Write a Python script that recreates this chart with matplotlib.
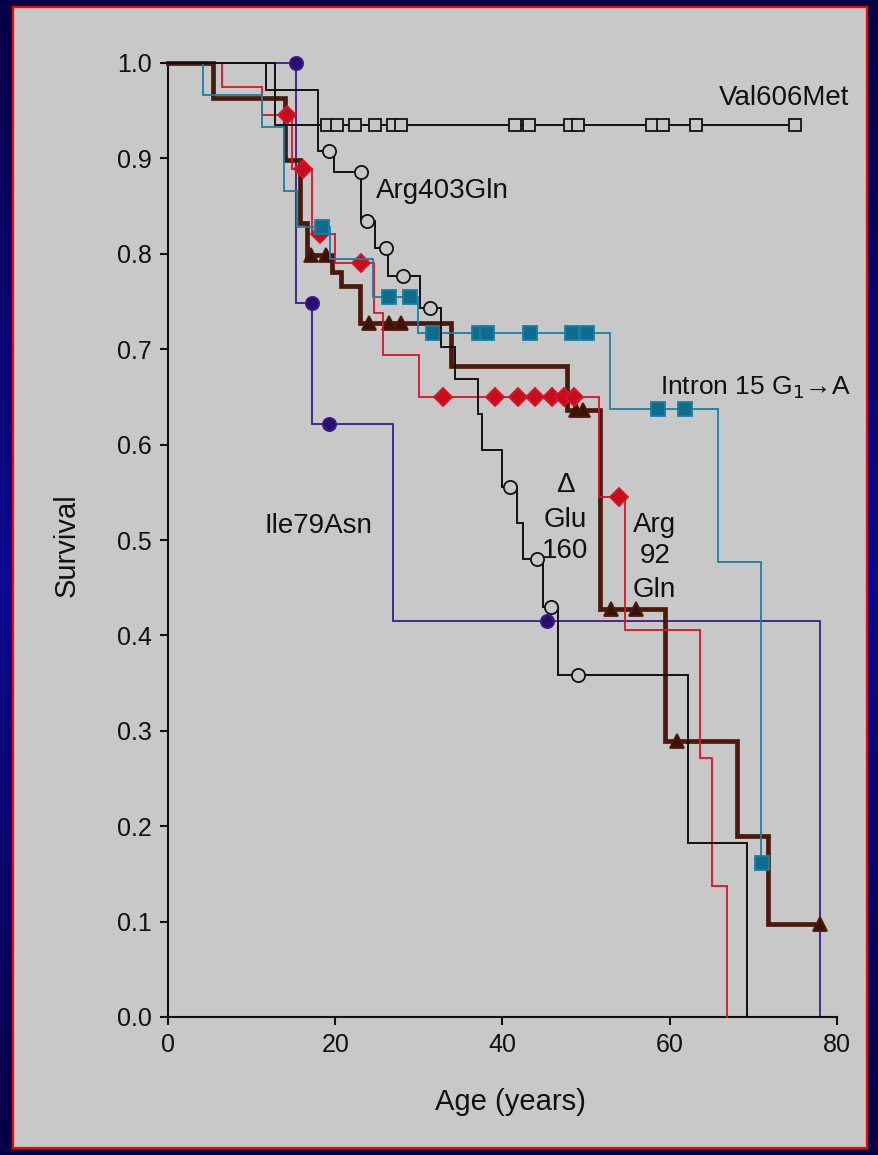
import matplotlib.pyplot as plt
import numpy as np
from matplotlib.patches import Rectangle
from matplotlib.colors import LinearSegmentedColormap

plt.rcParams['font.family'] = ['Liberation Sans', 'DejaVu Sans']

# Kaplan-Meier curves: step times (years), survival after each step, censored points
val606_t = [12.8]
val606_s = [0.935]
val606_end = 75.0
val606_cens_t = [19.0, 20.2, 22.4, 24.8, 26.9, 27.9, 41.5, 43.2, 48.1, 49.0, 57.9, 59.2, 63.1, 75.0]

arg403_t = [11.7, 17.9, 19.8, 23.1, 24.8, 26.3, 30.1, 32.7, 34.3, 37.1, 37.5, 39.9, 41.7,
            42.5, 44.8, 46.6, 62.2, 69.2]
arg403_s = [0.972, 0.908, 0.886, 0.834, 0.806, 0.777, 0.743, 0.702, 0.669, 0.632, 0.594,
            0.556, 0.518, 0.480, 0.430, 0.359, 0.182, 0.0]
arg403_end = 69.2
arg403_cens_t = [19.2, 23.1, 23.8, 26.1, 28.1, 31.3, 40.9, 44.1, 45.8, 49.0]

intron15_t = [4.2, 11.3, 13.9, 15.4, 19.4, 24.5, 29.9, 52.8, 65.8, 70.9]
intron15_s = [0.966, 0.933, 0.866, 0.828, 0.795, 0.755, 0.717, 0.637, 0.477, 0.161]
intron15_end = 71.0
intron15_cens_t = [18.4, 26.4, 28.9, 31.7, 37.2, 38.1, 43.3, 48.3, 50.1, 58.6, 61.8, 71.0]

ile79_t = [15.3, 17.2, 26.9, 78.0]
ile79_s = [0.748, 0.622, 0.415, 0.0]
ile79_end = 78.0
ile79_cens_t = [15.3, 17.2, 19.2, 45.3]

arg92_t = [6.4, 11.2, 14.8, 17.2, 20.0, 24.6, 25.7, 30.0, 51.5, 54.6, 63.6, 65.0, 66.9]
arg92_s = [0.975, 0.945, 0.889, 0.821, 0.790, 0.738, 0.694, 0.650, 0.545, 0.406, 0.271,
           0.137, 0.0]
arg92_end = 66.9
arg92_cens_t = [14.2, 16.2, 18.2, 23.1, 32.9, 39.1, 41.9, 43.9, 45.9, 47.3, 48.5, 53.9]

glu160_t = [5.4, 14.0, 15.8, 16.6, 19.6, 20.7, 23.0, 33.9, 47.7, 51.7, 59.4, 68.0, 71.8]
glu160_s = [0.963, 0.898, 0.832, 0.799, 0.781, 0.766, 0.727, 0.682, 0.636, 0.428, 0.289,
            0.190, 0.097]
glu160_end = 78.0
glu160_cens_t = [17.1, 18.9, 24.0, 26.4, 27.9, 48.8, 49.6, 53.0, 56.0, 60.9, 78.0]

bg = '#c8c8c8'


def km_curve(ax, t, s, end, cens_t, color, lw, marker, ms, mfc, z):
    xs = [0.0] + list(t) + [end]
    ys = [1.0] + list(s) + [s[-1]]
    ax.plot(xs, ys, drawstyle='steps-post', color=color, lw=lw, zorder=z,
            solid_joinstyle='miter', clip_on=False)
    # survival at each censoring time (value of the step on its left)
    cens_s = []
    for c in cens_t:
        val = 1.0
        for ti, si in zip(t, s):
            if ti < c - 1e-9:
                val = si
        cens_s.append(val)
    ax.plot(cens_t, cens_s, ls='none', marker=marker, ms=ms, mfc=mfc, mec=color,
            mew=1.3, zorder=z + 0.5, clip_on=False)


fig = plt.figure(figsize=(8.79, 11.55), dpi=100)

# dark blue frame with a grey panel
bga = fig.add_axes([0, 0, 1, 1])
grad = np.abs(np.linspace(-1, 1, 256))[:, None]
cmap = LinearSegmentedColormap.from_list('frame', ['#0a0a92', '#000046'])
bga.imshow(grad, aspect='auto', cmap=cmap, extent=[0, 1, 0, 1])
bga.set_xlim(0, 1)
bga.set_ylim(0, 1)
bga.axis('off')
bga.add_patch(Rectangle((13 / 879, 1 - 1148 / 1155), (867 - 13) / 879, (1148 - 7) / 1155,
                        facecolor=bg, edgecolor='#ff0000', lw=1.6))

ax = fig.add_axes([168 / 879, 1 - 1017 / 1155, 669 / 879, 954 / 1155])
ax.set_facecolor('none')

km_curve(ax, ile79_t, ile79_s, ile79_end, ile79_cens_t, '#3a1c8c', 1.3, 'o', 9.5, '#2c0c6c', 2)
km_curve(ax, glu160_t, glu160_s, glu160_end, glu160_cens_t, '#4b1a0c', 3.4, '^', 10, '#3c1206', 3)
km_curve(ax, arg92_t, arg92_s, arg92_end, arg92_cens_t, '#d8142a', 1.3, 'D', 9.5, '#c80c1c', 4)
km_curve(ax, intron15_t, intron15_s, intron15_end, intron15_cens_t, '#1a7fa6', 1.3, 's', 10.5, '#0f6c8c', 5)
km_curve(ax, arg403_t, arg403_s, arg403_end, arg403_cens_t, '#111111', 1.4, 'o', 9.5, bg, 6)
km_curve(ax, val606_t, val606_s, val606_end, val606_cens_t, '#111111', 1.4, 's', 9, bg, 6)

ax.set_xlim(0, 80)
ax.set_ylim(0, 1.0)
ax.set_xticks(np.arange(0, 81, 20))
ax.set_yticks(np.round(np.arange(0, 1.01, 0.1), 1))
ax.set_yticklabels([f'{v:.1f}' for v in np.arange(0, 1.01, 0.1)])
for side in ['top', 'right']:
    ax.spines[side].set_visible(False)
for side in ['left', 'bottom']:
    ax.spines[side].set_linewidth(1.5)
    ax.spines[side].set_color('#111111')
ax.tick_params(direction='out', length=5.5, width=1.5, labelsize=18, colors='#111111', pad=6)

# curve labels
tk = dict(fontsize=20, color='#111111')
ax.text(73.7, 0.956, 'Val606Met', ha='center', va='baseline', **tk)
ax.text(24.9, 0.858, 'Arg403Gln', ha='left', va='baseline', **tk)
ax.text(58.8, 0.652, 'Intron 15 G$_1$\u2192A', ha='left', va='baseline',
        fontsize=19, color='#111111')
ax.text(11.5, 0.507, 'Ile79Asn', ha='left', va='baseline', **tk)
ax.text(47.5, 0.550, '\u0394', ha='center', va='baseline', **tk)
ax.text(47.5, 0.514, 'Glu', ha='center', va='baseline', **tk)
ax.text(47.5, 0.481, '160', ha='center', va='baseline', **tk)
ax.text(58.2, 0.508, 'Arg', ha='center', va='baseline', **tk)
ax.text(58.2, 0.476, '92', ha='center', va='baseline', **tk)
ax.text(58.2, 0.440, 'Gln', ha='center', va='baseline', **tk)

fig.text(510 / 879, 1 - 1110 / 1155, 'Age (years)', ha='center', va='baseline',
         fontsize=21, color='#111111')
fig.text(67 / 879, 1 - 545 / 1155, 'Survival', ha='center', va='center', rotation=90,
         fontsize=21, color='#111111')

fig.savefig('out.png', dpi=100, facecolor='#000046')
